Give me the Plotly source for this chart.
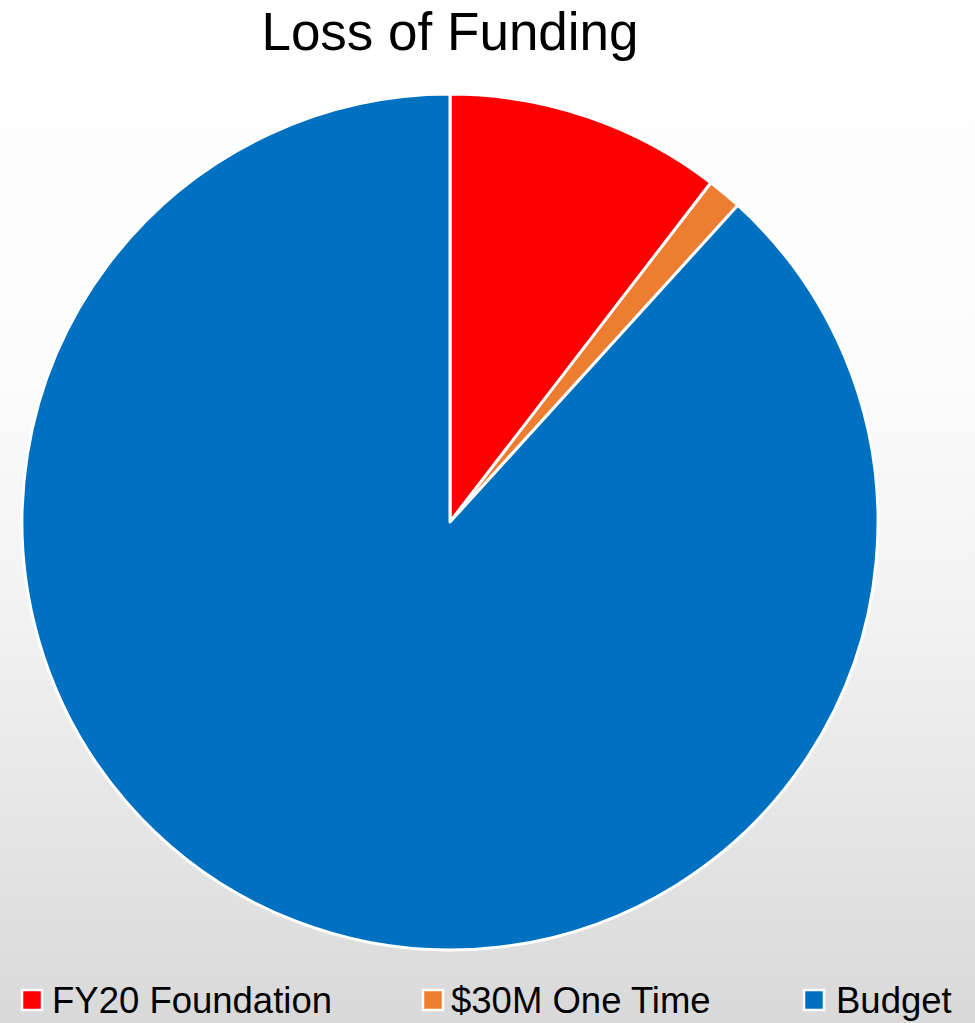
import base64
import plotly.graph_objects as go

categories = ["FY20 Foundation", "$30M One Time", "Budget"]
values = [240, 30, 2030]
colors = ["#FF0000", "#ED7D31", "#0070C0"]

W, H = 975, 1023

svg = f'''<svg xmlns="http://www.w3.org/2000/svg" width="{W}" height="{H}" preserveAspectRatio="none">
<defs><linearGradient id="g" x1="0" y1="0" x2="0" y2="1">
<stop offset="0" stop-color="#ffffff"/><stop offset="0.35" stop-color="#fcfcfc"/>
<stop offset="0.6" stop-color="#f2f2f2"/><stop offset="1" stop-color="#d9d9d9"/>
</linearGradient></defs><rect width="{W}" height="{H}" fill="url(#g)"/></svg>'''
bg = "data:image/svg+xml;base64," + base64.b64encode(svg.encode()).decode()

fig = go.Figure(go.Pie(
    labels=categories,
    values=values,
    marker=dict(colors=colors, line=dict(color="white", width=3)),
    sort=False,
    direction="clockwise",
    rotation=0,
    textinfo="none",
    hoverinfo="label+value",
    showlegend=False,
    domain=dict(x=[22 / W, 878 / W], y=[1 - 950 / H, 1 - 94 / H]),
))

# manual legend laid out like the original (one row along the bottom)
legend_marker_x = [32, 433, 814]
legend_text_x = [50, 449, 834]
legend_y = 1000
shapes = []
annotations = []
for name, col, mx, tx in zip(categories, colors, legend_marker_x, legend_text_x):
    shapes.append(dict(type="rect", xref="paper", yref="paper",
                       x0=(mx - 10) / W, x1=(mx + 10) / W,
                       y0=1 - (legend_y + 10) / H, y1=1 - (legend_y - 10) / H,
                       fillcolor=col, line=dict(color="white", width=2.5)))
    annotations.append(dict(text=name, xref="paper", yref="paper",
                            x=tx / W, y=1 - legend_y / H, xanchor="left",
                            yanchor="middle", showarrow=False,
                            font=dict(size=36.5, color="black")))

fig.update_layout(
    width=W, height=H,
    margin=dict(l=0, r=0, t=0, b=0),
    paper_bgcolor="white",
    showlegend=False,
    font=dict(family="Liberation Sans, Arial, sans-serif", color="black"),
    title=dict(text="Loss of Funding", font=dict(size=53, color="black"),
               x=450 / W, xanchor="center", y=1 - 31 / H, yanchor="middle",
               yref="container"),
    shapes=shapes,
    annotations=annotations,
    images=[dict(source=bg, xref="paper", yref="paper", x=0, y=1,
                 sizex=1, sizey=1, xanchor="left", yanchor="top",
                 sizing="stretch", layer="below")],
)

fig.write_html("out.html", config={"displayModeBar": False},
               post_script="document.body.style.margin='0';document.body.style.overflow='hidden';")
